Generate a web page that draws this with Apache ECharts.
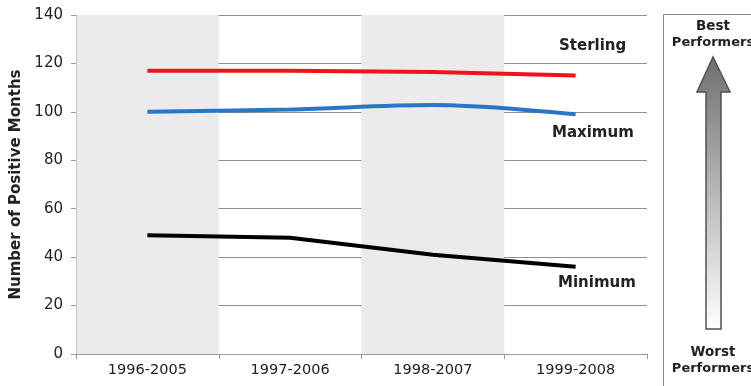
<!DOCTYPE html>
<html>
<head>
<meta charset="utf-8">
<script src="https://cdn.jsdelivr.net/npm/echarts@6/dist/echarts.min.js"></script>
<style>
  html, body { margin: 0; padding: 0; background: #fff; }
  #chart { width: 751px; height: 386px; }
</style>
</head>
<body>
<div id="chart"></div>
<script>
// Rolling ten-year windows
const periods = ['1996-2005', '1997-2006', '1998-2007', '1999-2008'];

// Number of positive months in each window
const sterling = [117, 117, 116.5, 115];
const maximum = [100, 101, 102.8, 99];
const minimum = [49, 48, 41, 36];

const yTicks = [0, 20, 40, 60, 80, 100, 120, 140];

const chart = echarts.init(document.getElementById('chart'), null, { renderer: 'canvas' });

const font = '"DejaVu Sans", Verdana, sans-serif';

chart.setOption({
  animation: false,
  backgroundColor: '#ffffff',
  grid: { left: 76, right: 104, top: 15, bottom: 32, outerBoundsMode: 'none', containLabel: false },
  xAxis: {
    type: 'category',
    data: periods,
    boundaryGap: true,
    axisLine: { lineStyle: { color: '#9a9a9a', width: 1 } },
    axisTick: { show: true, length: 5, lineStyle: { color: '#9a9a9a' } },
    axisLabel: { color: '#222', fontFamily: font, fontSize: 14.5, margin: 9 },
    splitArea: { show: true, areaStyle: { color: ['#ebebeb', 'rgba(255,255,255,0)'] } },
    splitLine: { show: false }
  },
  yAxis: {
    type: 'value',
    min: yTicks[0],
    max: yTicks[yTicks.length - 1],
    interval: 20,
    name: 'Number of Positive Months',
    nameLocation: 'middle',
    nameGap: 47,
    nameTextStyle: { color: '#222', fontFamily: font, fontSize: 15, fontWeight: 'bold' },
    axisLine: { show: true, lineStyle: { color: '#c8c8c8' } },
    axisTick: { show: true, length: 5, lineStyle: { color: '#9a9a9a' } },
    axisLabel: { color: '#222', fontFamily: font, fontSize: 15, margin: 13 },
    splitLine: { show: true, lineStyle: { color: '#8f8f8f', width: 1 } }
  },
  series: [
    {
      name: 'Sterling', type: 'line', data: sterling,
      symbol: 'none', lineStyle: { color: '#f0141a', width: 4 }, z: 3
    },
    {
      name: 'Maximum', type: 'line', data: maximum, smooth: 0.35,
      symbol: 'none', lineStyle: { color: '#2a76c6', width: 4 }, z: 3
    },
    {
      name: 'Minimum', type: 'line', data: minimum,
      symbol: 'none', lineStyle: { color: '#000000', width: 4 }, z: 3
    }
  ],
  graphic: [
    { type: 'text', left: 559, top: 39, style: { text: 'Sterling', fill: '#222', font: 'bold 15px ' + font } },
    { type: 'text', left: 552, top: 126, style: { text: 'Maximum', fill: '#222', font: 'bold 15px ' + font } },
    { type: 'text', left: 558, top: 276, style: { text: 'Minimum', fill: '#222', font: 'bold 15px ' + font } },
    // Side panel with performance arrow
    {
      type: 'rect', shape: { x: 663.5, y: 14.5, width: 100, height: 380 },
      style: { fill: '#fff', stroke: '#8a8a8a', lineWidth: 1 }
    },
    {
      type: 'polygon',
      shape: { points: [[713, 57], [730, 92], [721, 92], [721, 329], [706, 329], [706, 92], [697, 92]] },
      style: {
        fill: new echarts.graphic.LinearGradient(0, 0, 0, 1, [
          { offset: 0, color: '#6e6e6e' },
          { offset: 0.5, color: '#b8b8b8' },
          { offset: 1, color: '#ffffff' }
        ]),
        stroke: '#505050', lineWidth: 1.5
      }
    },
    { type: 'text', x: 713, y: 26, style: { text: 'Best', fill: '#222', font: 'bold 13.5px ' + font, align: 'center', verticalAlign: 'middle' } },
    { type: 'text', x: 713, y: 43, style: { text: 'Performers', fill: '#222', font: 'bold 13px ' + font, align: 'center', verticalAlign: 'middle' } },
    { type: 'text', x: 713, y: 352, style: { text: 'Worst', fill: '#222', font: 'bold 13.5px ' + font, align: 'center', verticalAlign: 'middle' } },
    { type: 'text', x: 713, y: 369, style: { text: 'Performers', fill: '#222', font: 'bold 13px ' + font, align: 'center', verticalAlign: 'middle' } }
  ]
});
</script>
</body>
</html>
